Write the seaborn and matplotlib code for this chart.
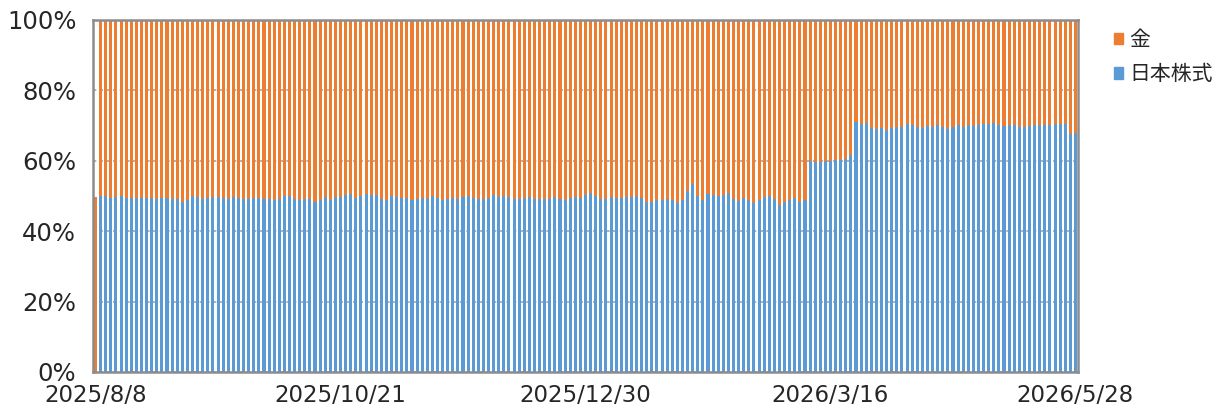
import pandas as pd
import seaborn as sns
import matplotlib.pyplot as plt
from matplotlib.patches import Patch

# 東証の営業日 (2025/8/8 - 2026/5/28)
holidays = ["2025-08-11", "2025-09-15", "2025-09-23", "2025-10-13", "2025-11-03",
            "2025-11-24", "2025-12-31", "2026-01-01", "2026-01-02", "2026-01-12",
            "2026-02-11", "2026-02-23", "2026-03-20", "2026-04-29", "2026-05-04",
            "2026-05-05", "2026-05-06"]
dates = pd.bdate_range("2025-08-08", "2026-05-28", freq="C", holidays=holidays)
date_labels = [f"{d.year}/{d.month}/{d.day}" for d in dates]

# 日本株式の比率 (%)
stock_pct = [
    0.0,
    50.0, 50.0, 49.3, 49.8, 50.0, 49.5, 49.5, 49.3, 49.3, 49.5,
    49.3, 49.2, 49.4, 49.4, 49.0, 49.2, 48.2, 48.8, 50.0, 49.7,
    49.2, 49.5, 49.7, 49.7, 49.3, 49.2, 49.7, 49.5, 49.2, 49.0,
    49.3, 49.4, 49.1, 49.0, 48.9, 49.2, 50.0, 50.1, 49.2, 48.8,
    49.0, 49.2, 48.4, 48.9, 49.8, 48.8, 49.7, 49.6, 50.3, 50.6,
    49.3, 49.9, 50.5, 50.4, 50.4, 49.1, 48.9, 50.1, 49.7, 49.5,
    49.4, 48.8, 49.1, 49.3, 49.2, 50.0, 49.3, 48.8, 49.2, 49.5,
    49.2, 49.8, 50.1, 49.4, 49.0, 49.0, 49.5, 50.2, 49.8, 49.9,
    49.6, 49.2, 49.2, 49.4, 49.6, 49.1, 49.2, 49.2, 49.2, 49.6,
    49.1, 48.9, 49.3, 49.6, 49.4, 50.4, 50.9, 50.1, 49.0, 49.1,
    49.6, 49.3, 49.5, 49.7, 49.6, 49.9, 49.4, 48.2, 48.2, 48.7,
    48.9, 49.1, 48.8, 48.1, 48.7, 51.3, 53.4, 50.1, 48.8, 50.5,
    50.3, 50.1, 50.3, 50.7, 49.1, 48.5, 49.5, 48.9, 48.0, 48.9,
    49.6, 50.0, 49.1, 47.5, 48.3, 48.9, 49.5, 48.2, 48.9,
    59.9, 59.5, 59.6, 60.0, 60.0, 60.3, 60.1, 60.4, 61.6,
    71.1, 70.4, 70.6, 69.3, 69.0, 69.3, 68.7, 69.4, 69.5,
    69.7, 70.3, 70.0, 69.6, 69.4, 69.9, 69.6, 70.0, 69.7, 69.1,
    69.6, 70.2, 69.7, 70.0, 69.8, 70.1, 70.3, 70.3, 70.6, 70.0,
    69.8, 70.0, 70.0, 69.7, 69.5, 69.8, 70.0, 70.0, 70.0, 70.0,
    70.4, 70.4, 70.3, 67.6, 67.8,
]
# 金の比率 (%) ; 初日だけ金のみ
gold_first = 49.8
gold_pct = [gold_first] + [100 - s for s in stock_pct[1:]]

tick_dates = ["2025/8/8", "2025/10/21", "2025/12/30", "2026/3/16", "2026/5/28"]

blue = "#5B9BD5"
orange = "#ED7D31"

df = pd.DataFrame({
    "date": date_labels,
    "stock": stock_pct,
    "total": [s + g for s, g in zip(stock_pct, gold_pct)],
})

sns.set_style("white")
plt.rcParams["font.family"] = ["Noto Sans CJK JP", "DejaVu Sans"]

fig, ax = plt.subplots(figsize=(12.14, 4.05), dpi=100)
fig.subplots_adjust(left=0.0766, right=0.888, bottom=0.0815, top=0.951)

# 積み上げ: 合計(金)を先に描き、その上に日本株式
sns.barplot(data=df, x="date", y="total", color=orange, width=0.6,
            saturation=1, errorbar=None, linewidth=0, ax=ax)
sns.barplot(data=df, x="date", y="stock", color=blue, width=0.6,
            saturation=1, errorbar=None, linewidth=0, ax=ax)

ax.set_xlim(-0.5, len(dates) - 0.5)
ax.set_ylim(0, 100)
ax.set_yticks(range(0, 101, 20))
ax.set_yticklabels([f"{v}%" for v in range(0, 101, 20)], family="DejaVu Sans")
ax.set_xticks([date_labels.index(t) for t in tick_dates])
ax.set_xticklabels(tick_dates, family="DejaVu Sans")
ax.set_xlabel("")
ax.set_ylabel("")
ax.tick_params(axis="y", length=0, labelsize=17.5, pad=12)
ax.tick_params(axis="x", length=0, labelsize=16.5, pad=8.3)

ax.set_axisbelow(True)
ax.yaxis.grid(True, color="#A6A6A6", linestyle=(0, (2, 2)), linewidth=1.2)
for s in ax.spines.values():
    s.set_visible(True)
    s.set_color("#8C8C8C")
    s.set_linewidth(1.8)

handles = [Patch(color=orange, label="金"), Patch(color=blue, label="日本株式")]
fig.legend(handles=handles, loc="upper left", bbox_to_anchor=(1114 / 1214, 1 - 29 / 405),
           frameon=False, fontsize=15, handlelength=0.45, handleheight=0.45,
           handletextpad=0.3, labelspacing=0.6, borderpad=0, borderaxespad=0)

fig.savefig("out.png", dpi=100)
